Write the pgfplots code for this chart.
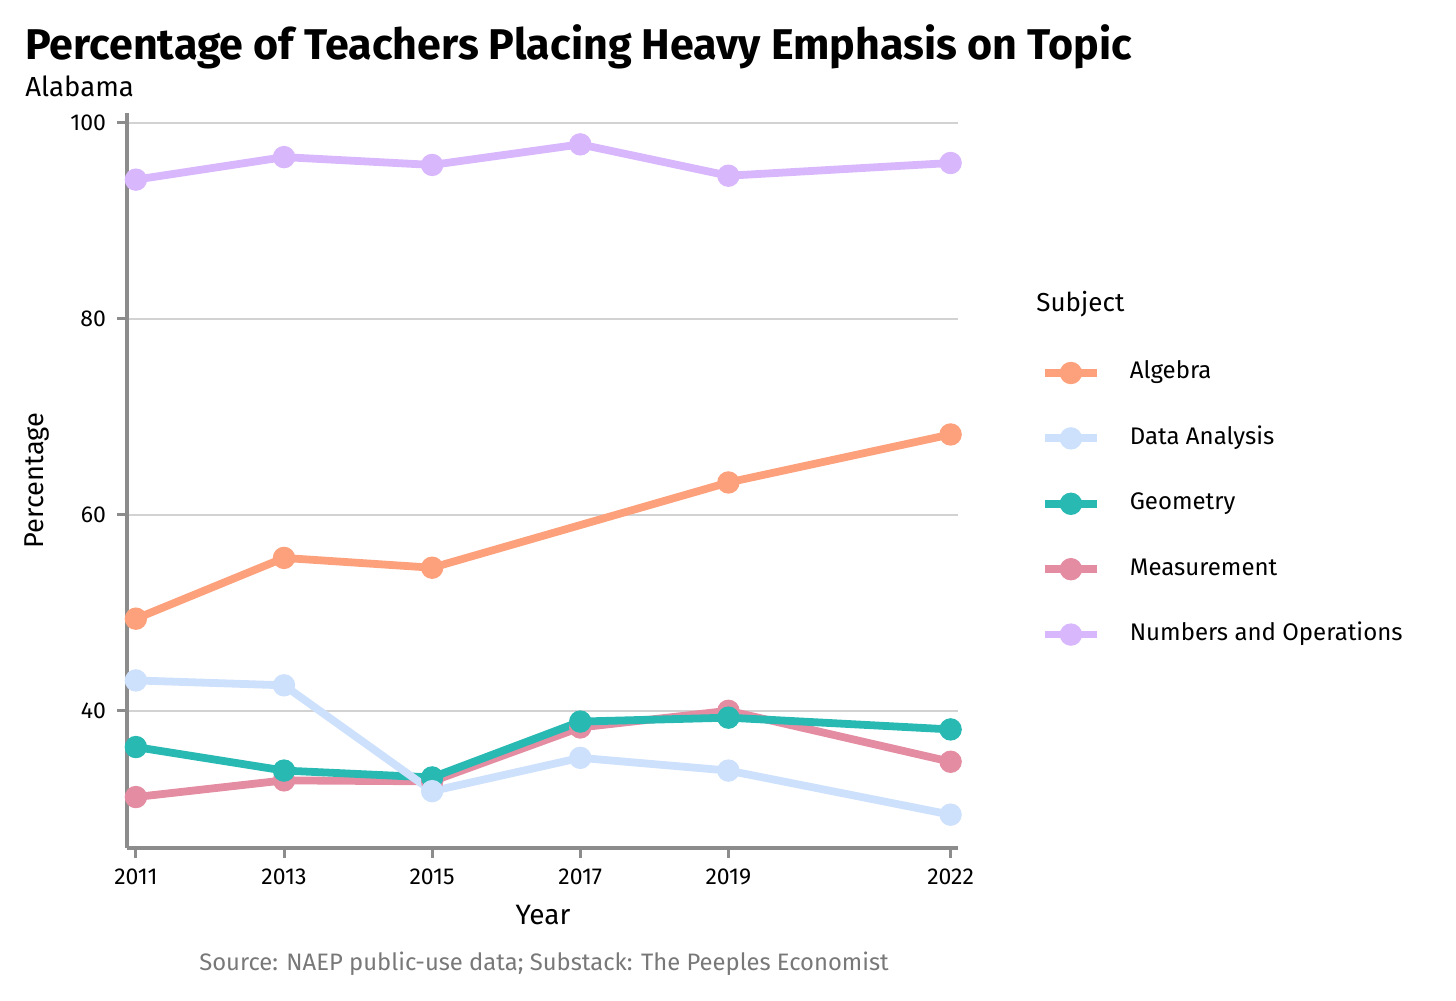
\documentclass[border=0pt]{standalone}
\usepackage{fontspec}
\setmainfont{Fira Sans}
\usepackage{pgfplots}
\pgfplotsset{compat=1.18}
\definecolor{calg}{RGB}{253,161,124}
\definecolor{cdat}{RGB}{205,225,253}
\definecolor{cgeo}{RGB}{40,185,178}
\definecolor{cmea}{RGB}{228,140,162}
\definecolor{cnum}{RGB}{217,183,253}
\definecolor{axgray}{RGB}{140,140,140}
\definecolor{gridgray}{RGB}{210,210,210}
\definecolor{srcgray}{RGB}{120,120,120}
\pgfplotstableread{
year alg dat geo mea num
2011 49.4 43.1 36.3 31.2 94.2
2013 55.6 42.6 33.9 32.9 96.5
2015 54.6 31.8 33.2 32.8 95.7
2017 nan  35.2 38.9 38.3 97.8
2019 63.3 33.9 39.3 40.0 94.6
2022 68.2 29.4 38.1 34.8 95.9
}\datatab
\begin{document}
\begin{tikzpicture}[x=1pt,y=1pt]
\useasboundingbox (0,0) rectangle (728,500.5);
\node[anchor=base west,inner sep=0pt,font=\fontsize{21.5}{24}\selectfont\bfseries] at (12.5,470.5) {Percentage of Teachers Placing Heavy Emphasis on Topic};
\node[anchor=base west,inner sep=0pt,font=\fontsize{13.8}{16}\selectfont] at (12.5,452) {Alabama};
\node[anchor=base,inner sep=0pt,font=\fontsize{11.9}{14}\selectfont,text=srcgray] at (272,15.5) {Source: NAEP public-use data; Substack: The Peeples Economist};
\node[anchor=base west,inner sep=0pt,font=\fontsize{13}{15}\selectfont] at (518,344.5) {Subject};
\begin{axis}[
  at={(63.5pt,76.5pt)}, anchor=south west,
  scale only axis, width=415.5pt, height=367.5pt,
  xmin=2010.88, xmax=2022.1, ymin=26, ymax=101,
  clip=false,
  axis x line*=bottom, axis y line*=left,
  axis line style={draw=axgray, line width=2pt, -},
  xtick={2011,2013,2015,2017,2019,2022},
  ytick={40,60,80,100},
  /pgf/number format/1000 sep={},
  /pgf/number format/assume math mode=true,
  tick align=outside, major tick length=5pt,
  tick style={draw=axgray, line width=1.5pt},
  ymajorgrids, grid style={draw=gridgray, line width=0.8pt},
  tick label style={font=\fontsize{11.5}{13}\selectfont},
  xticklabel style={yshift=-2pt},
  yticklabel style={xshift=-2pt},
  xlabel={Year}, ylabel={Percentage},
  xlabel style={font=\fontsize{14}{16}\selectfont, at={(axis description cs:0.5006,-0.0912)}, anchor=center},
  ylabel style={font=\fontsize{13.6}{16}\selectfont, at={(axis description cs:-0.1083,0.5)}, anchor=center, rotate=0},
  unbounded coords=jump,
  every axis plot/.append style={line width=3.9pt, mark=*, mark size=5.3pt},
  legend cell align=left,
  legend style={draw=none, fill=none, inner sep=0pt, outer sep=0pt,
    at={(axis description cs:1.0999,0.6626)}, anchor=north west,
    font=\fontsize{12}{14}\selectfont, row sep=20.7pt,
    nodes={inner sep=0pt, text height=9pt, text depth=3pt}},
  legend image code/.code={
    \draw[#1,mark=none] (0pt,0pt) -- (26pt,0pt);
    \draw[#1,only marks] plot coordinates {(13pt,0pt)};
    \path (40.5pt,0pt);
  },
]
\addlegendimage{draw=calg, mark options={fill=calg, draw=calg, line width=0.6pt}}
\addlegendentry{Algebra}
\addlegendimage{draw=cdat, mark options={fill=cdat, draw=cdat, line width=0.6pt}}
\addlegendentry{Data Analysis}
\addlegendimage{draw=cgeo, mark options={fill=cgeo, draw=cgeo, line width=0.6pt}}
\addlegendentry{Geometry}
\addlegendimage{draw=cmea, mark options={fill=cmea, draw=cmea, line width=0.6pt}}
\addlegendentry{Measurement}
\addlegendimage{draw=cnum, mark options={fill=cnum, draw=cnum, line width=0.6pt}}
\addlegendentry{Numbers and Operations}
\addplot[forget plot, draw=cmea, mark options={fill=cmea, draw=cmea, line width=0.6pt}] table[x=year,y=mea] {\datatab};
\addplot[forget plot, draw=cgeo, mark options={fill=cgeo, draw=cgeo, line width=0.6pt}] table[x=year,y=geo] {\datatab};
\addplot[forget plot, draw=cdat, mark options={fill=cdat, draw=cdat, line width=0.6pt}] table[x=year,y=dat] {\datatab};
\addplot[forget plot, draw=calg, mark options={fill=calg, draw=calg, line width=0.6pt}, unbounded coords=discard] table[x=year,y=alg] {\datatab};
\addplot[forget plot, draw=cnum, mark options={fill=cnum, draw=cnum, line width=0.6pt}] table[x=year,y=num] {\datatab};
\end{axis}
\end{tikzpicture}
\end{document}
